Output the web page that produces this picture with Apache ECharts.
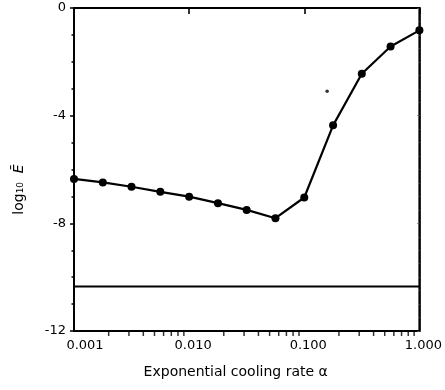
<!DOCTYPE html>
<html>
<head>
<meta charset="utf-8">
<script src="https://cdn.jsdelivr.net/npm/echarts@6/dist/echarts.min.js"></script>
<style>html,body{margin:0;padding:0;background:#fff}#c{width:445px;height:390px}</style>
</head>
<body>
<div id="c"></div>
<script>
// Data
var coolingRate = [0.001, 0.00178, 0.00316, 0.00562, 0.01, 0.0178, 0.0316, 0.0562, 0.1, 0.178, 0.316, 0.562, 1.0];
var log10E = [-6.35, -6.48, -6.64, -6.83, -7.01, -7.25, -7.50, -7.81, -7.04, -4.36, -2.44, -1.43, -0.83];
var refLevel = -10.35;
var refRange = [0.001, 1.0];
var strayPoint = [0.158, -3.09];
var xTickLabels = ['0.001', '0.010', '0.100', '1.000'];
var yTickLabels = ['-12', '-8', '-4', '0'];
var xMinorTicks = [0.002,0.003,0.004,0.005,0.006,0.007,0.008,0.009,
                   0.02,0.03,0.04,0.05,0.06,0.07,0.08,0.09,
                   0.2,0.3,0.4,0.5,0.6,0.7,0.8,0.9];

var FONT = 'DejaVu Sans';
var chart = echarts.init(document.getElementById('c'), null, {renderer: 'canvas'});

var mainData = coolingRate.map(function (x, i) { return [x, log10E[i]]; });
var refData = refRange.map(function (x) { return [x, refLevel]; });
var yMin = -12;

chart.setOption({
  animation: false,
  backgroundColor: '#fff',
  grid: {left: 74, right: 16, top: 8, bottom: 59, show: true, borderColor: '#000', borderWidth: 2, containLabel: false},
  xAxis: [{
    type: 'log', logBase: 10, min: 0.001, max: 1,
    axisLine: {show: true, lineStyle: {color: '#000', width: 2}},
    axisTick: {show: true, inside: false, length: 6, lineStyle: {color: '#000', width: 1.6}},
    splitLine: {show: false},
    axisLabel: {
      color: '#000', fontFamily: FONT, fontSize: 13, margin: 8,
      formatter: function (v) {
        var s = Number(v).toFixed(3);
        if (xTickLabels.indexOf(s) < 0) return '';
        return s === '0.001' ? '{first|' + s + '}' : '{r|' + s + '}';
      },
      rich: {
        first: {fontFamily: FONT, fontSize: 13, color: '#000', padding: [0, 0, 0, 22]},
        r: {fontFamily: FONT, fontSize: 13, color: '#000', padding: [0, 0, 0, 8]}
      }
    },
    name: 'Exponential cooling rate α',
    nameLocation: 'middle', nameGap: 34,
    nameTextStyle: {color: '#000', fontFamily: FONT, fontSize: 14, padding: [0, 22, 0, 0]}
  }],
  yAxis: [{
    type: 'value', min: yMin, max: 0, interval: 4,
    axisLine: {show: true, lineStyle: {color: '#000', width: 2}},
    axisTick: {show: true, inside: false, length: 4, lineStyle: {color: '#000', width: 1.5}},
    minorTick: {show: true, splitNumber: 4, length: 2.5, lineStyle: {color: '#000', width: 1.5}},
    splitLine: {show: false},
    axisLabel: {
      color: '#000', fontFamily: FONT, fontSize: 13, margin: 8,
      formatter: function (v) { var s = String(v); return yTickLabels.indexOf(s) >= 0 ? s : ''; }
    },
    name: '{n|log\u2081\u2080}  {e|\u0112}',
    nameLocation: 'middle', nameGap: 48, nameRotate: 90,
    nameTextStyle: {
      color: '#000', fontFamily: FONT, fontSize: 14, padding: [0, 0, 0, -40],
      rich: {
        n: {color: '#000', fontFamily: FONT, fontSize: 14},
        e: {color: '#000', fontFamily: FONT, fontSize: 14, fontStyle: 'italic'}
      }
    }
  }, {
    type: 'value', min: yMin, max: 0, interval: 4, position: 'right',
    axisLine: {show: true, lineStyle: {color: '#000', width: 1.5}},
    axisTick: {show: true, inside: true, length: 2, lineStyle: {color: '#555', width: 1}},
    minorTick: {show: true, splitNumber: 8, length: 1.5, lineStyle: {color: '#777', width: 1}},
    axisLabel: {show: false},
    splitLine: {show: false}
  }],
  series: [{
    type: 'line', data: mainData,
    symbol: 'circle', symbolSize: 8, showSymbol: true,
    itemStyle: {color: '#000'},
    lineStyle: {color: '#000', width: 2.2},
    silent: true, z: 5
  }, {
    type: 'line', data: refData, symbol: 'none',
    lineStyle: {color: '#000', width: 2}, silent: true
  }, {
    type: 'scatter', data: [strayPoint], symbol: 'circle', symbolSize: 3.5,
    itemStyle: {color: '#000'}, silent: true
  }, {
    type: 'scatter', silent: true, clip: false, z: 10,
    data: xMinorTicks.map(function (x) { return [x, yMin]; }),
    symbol: 'rect', symbolSize: [1.5, 6], symbolOffset: [0, 2],
    itemStyle: {color: '#000'}
  }]
});
</script>
</body>
</html>
